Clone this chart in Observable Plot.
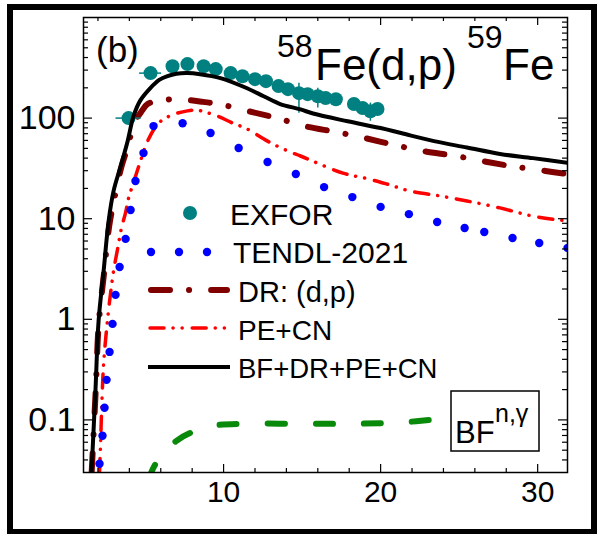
<!DOCTYPE html>
<html><head><meta charset="utf-8">
<script src="https://cdn.jsdelivr.net/npm/d3@7"></script>
<script src="https://cdn.jsdelivr.net/npm/@observablehq/plot@0.6"></script>
<style>
body{margin:0;background:#fff}
#chart{position:relative;width:597px;height:534px;overflow:hidden}
</style>
</head><body><div id="chart"></div>
<script>
// ---- data ----
const exforE  = [3.95,5.35,6.75,7.7,8.73,9.5,10.45,11.2,12.0,12.7,13.5,14.1,14.8,15.35,16.0,16.5,17.15,18.3,18.85,19.35,19.8];
const exforXS = [100,280,328,344,328,307,280,261,244,233,208,194,177,173,165,158,154,138,126,117,123];
const exforDE = [0.8,0.7,0,0,0,0,0,0,0,0,0,0,0,0,0,0,0,0,0,0,0];
const exforLo = [100,280,328,344,328,307,280,261,244,233,208,194,112,173,126,158,154,138,126,93,123];
const exforHi = [100,280,328,344,328,307,280,261,244,233,208,194,222,173,198,158,154,138,126,141,123];

const tendlE  = [2.10,2.29,2.42,2.55,2.74,2.93,3.12,3.38,3.76,4.08,4.39,4.90,5.54,7.39,9.17,10.96,12.8,14.6,16.4,18.2,20.0,21.8,23.6,25.35,26.6,28.4,30.1,31.9];
const tendlXS = [0.0366,0.0695,0.132,0.25,0.474,0.90,1.75,3.31,6.3,12.2,23.7,44.9,83.3,89,71,50.4,36.6,27.8,20.6,16.4,13.1,11.1,9.27,8.09,7.38,6.43,5.74,5.12];

const drE  = [1.6,1.86,2.05,2.38,2.72,3.05,3.5,3.95,4.27,4.8,5.16,6.0,6.8,7.77,8.7,9.7,11.6,13.4,15.2,17.2,19.0,20.9,22.7,24.8,26.8,28.7,30.5,31.9];
const drXS = [0.03,0.2,0.9,2.8,8.5,16,33,55,87,118,138,150,154,151,145,138,117,100,83,72.6,63.3,54,47,42,36.6,32.6,29.8,27.7];

const pecnE  = [2.1,2.17,2.25,2.36,2.55,2.68,2.8,2.99,3.25,3.5,3.76,3.95,4.27,4.7,5.16,5.8,6.3,6.9,7.7,8.3,8.9,9.6,10.6,11.5,12.8,14.1,14.9,17.6,19.2,20.4,21.9,23.8,25.5,27.6,29.7,31.9];
const pecnXS = [0.03,0.06,0.15,0.36,0.8,1.25,1.8,3.0,5.0,8.1,11.5,16,23,37,59,87,100,110,118,120,114,105,89,78,59,47,42,28.4,24.9,22.1,18.8,16.8,15,12.8,10.6,9.5];

const totE  = [1.59,1.85,2.04,2.36,2.68,3.0,3.44,3.89,4.27,4.7,5.35,5.9,6.43,7.0,7.7,8.5,9.8,11.5,12.55,13.6,14.9,15.7,17.9,20.0,21.3,23.4,25.5,27.6,29.7,31.9];
const totXS = [0.03,0.21,0.96,3.0,9.5,19,33,59,105,150,200,240,262,276,280,273,250,198,165,138,122,111,93,79.6,71,59,51,44,40,36];

const bfE  = [5.2,5.6,6.18,7.0,7.9,9.3,11.4,14.9,18.1,21.1,24.1,27.0,30.7];
const bfXS = [0.025,0.035,0.046,0.062,0.0745,0.0873,0.0915,0.0915,0.0915,0.094,0.1027,0.109,0.12];

const xMajor = [10,20,30];
const xMinor = [2,4,6,8,12,14,16,18,22,24,26,28];
const yMajor = [0.1,1,10,100];
const yMinor = [0.04,0.05,0.06,0.07,0.08,0.09,0.2,0.3,0.4,0.5,0.6,0.7,0.8,0.9,2,3,4,5,6,7,8,9,20,30,40,50,60,70,80,90,200,300,400,500,600,700,800,900];

const legendLabels = ["EXFOR","TENDL-2021","DR: (d,p)","PE+CN","BF+DR+PE+CN"];

// ---- colours ----
const cTeal="#008080", cBlue="#0000ff", cMaroon="#800000", cRed="#ff0000", cGreen="#0a8a0a";

const W=597,H=534,mL=83,mR=30,mT=17,mB=62;
const fw=W-mL-mR, fh=H-mT-mB;
const FONT="'Liberation Sans', Arial, Helvetica, sans-serif";

const zip=(xs,ys)=>xs.map((x,i)=>({x,y:ys[i]}));
const exfor = exforE.map((e,i)=>({x:e,y:exforXS[i],dx:exforDE[i],lo:exforLo[i],hi:exforHi[i]}));

const plot = Plot.plot({
  width:W, height:H, marginLeft:mL, marginRight:mR, marginTop:mT, marginBottom:mB,
  style:{fontFamily:FONT, background:"white", color:"black", overflow:"visible"},
  x:{domain:[1.08,31.9]},
  y:{type:"log", domain:[0.03,1000]},
  marks:[
    Plot.line(zip(bfE,bfXS),{x:"x",y:"y",stroke:cGreen,strokeWidth:6,strokeDasharray:"17,31",strokeLinecap:"round",curve:"catmull-rom",clip:true}),
    Plot.line(zip(pecnE,pecnXS),{x:"x",y:"y",stroke:cRed,strokeWidth:3.5,strokeDasharray:"14,9,0.1,9,0.1,10",strokeLinecap:"round",curve:"catmull-rom",clip:true}),
    Plot.line(zip(drE,drXS),{x:"x",y:"y",stroke:cMaroon,strokeWidth:6,strokeDasharray:"19,19,0.1,22",strokeLinecap:"round",curve:"catmull-rom",clip:true}),
    Plot.dot(zip(tendlE,tendlXS),{x:"x",y:"y",r:4.2,fill:cBlue,clip:true}),
    Plot.ruleY(exfor.filter(d=>d.dx>0),{y:"y",x1:d=>d.x-d.dx,x2:d=>d.x+d.dx,stroke:cTeal,strokeWidth:1.5}),
    Plot.ruleX(exfor.filter(d=>d.hi>d.lo),{x:"x",y1:"lo",y2:"hi",stroke:cTeal,strokeWidth:1.5}),
    Plot.dot(exfor,{x:"x",y:"y",r:7,fill:cTeal}),
    Plot.line(zip(totE,totXS),{x:"x",y:"y",stroke:"black",strokeWidth:4,curve:"catmull-rom",clip:true}),
    Plot.frame({stroke:"black",strokeWidth:1.5}),
    Plot.tickX(xMinor,{x:d=>d,insetTop:fh-4,stroke:"black",strokeWidth:1.2}),
    Plot.tickX(xMinor,{x:d=>d,insetBottom:fh-4,stroke:"black",strokeWidth:1.2}),
    Plot.tickX(xMajor,{x:d=>d,insetTop:fh-8,stroke:"black",strokeWidth:1.2}),
    Plot.tickX(xMajor,{x:d=>d,insetBottom:fh-8,stroke:"black",strokeWidth:1.2}),
    Plot.tickY(yMinor,{y:d=>d,insetRight:fw-5,stroke:"black",strokeWidth:1.2}),
    Plot.tickY(yMinor,{y:d=>d,insetLeft:fw-5,stroke:"black",strokeWidth:1.2}),
    Plot.tickY(yMajor,{y:d=>d,insetRight:fw-9,stroke:"black",strokeWidth:1.2}),
    Plot.tickY(yMajor,{y:d=>d,insetLeft:fw-9,stroke:"black",strokeWidth:1.2}),
    Plot.axisX(xMajor,{tickSize:0,tickPadding:8,fontSize:30,label:null,tickFormat:d=>String(d)}),
    Plot.axisY(yMajor,{tickSize:0,tickPadding:8,fontSize:34,label:null,tickFormat:d=>String(d)})
  ]
});
document.getElementById("chart").appendChild(plot);

const svg = d3.select(plot);

// outer thick frame
svg.append("rect").attr("x",10).attr("y",7).attr("width",584).attr("height",525)
  .attr("fill","none").attr("stroke","black").attr("stroke-width",6);

const NS = svg.append("g").attr("font-family",FONT).attr("fill","black").attr("text-anchor","start");

// panel label
NS.append("text").attr("x",96).attr("y",62).attr("font-size",35).text("(b)");

// title with superscripts
NS.append("text").attr("x",277).attr("y",57).attr("font-size",32).text("58");
NS.append("text").attr("x",315).attr("y",80).attr("font-size",44).text("Fe(d,p)");
NS.append("text").attr("x",467).attr("y",48).attr("font-size",32).text("59");
NS.append("text").attr("x",503).attr("y",80).attr("font-size",44).text("Fe");

// legend
const lg = svg.append("g").attr("font-family",FONT).attr("font-size",30).attr("fill","black").attr("text-anchor","start");
lg.append("circle").attr("cx",190).attr("cy",213).attr("r",7).attr("fill",cTeal);
lg.append("text").attr("x",230).attr("y",225).text(legendLabels[0]);
[151,179,207].forEach(cx=>lg.append("circle").attr("cx",cx).attr("cy",252).attr("r",4.2).attr("fill",cBlue));
lg.append("text").attr("x",233).attr("y",263).text(legendLabels[1]);
lg.append("line").attr("x1",151).attr("x2",227).attr("y1",290).attr("y2",290)
  .attr("stroke",cMaroon).attr("stroke-width",6).attr("stroke-linecap","round").attr("stroke-dasharray","19,19,0.1,22");
lg.append("text").attr("x",238).attr("y",302).attr("font-size",29).text(legendLabels[2]);
lg.append("line").attr("x1",150).attr("x2",229).attr("y1",328).attr("y2",328)
  .attr("stroke",cRed).attr("stroke-width",3.5).attr("stroke-linecap","round").attr("stroke-dasharray","14,9,0.1,9,0.1,10");
lg.append("text").attr("x",238).attr("y",340).attr("font-size",28).text(legendLabels[3]);
lg.append("line").attr("x1",148).attr("x2",230).attr("y1",367).attr("y2",367)
  .attr("stroke","black").attr("stroke-width",4);
lg.append("text").attr("x",238).attr("y",378).attr("font-size",27.5).text(legendLabels[4]);

// BF(n,gamma) box
const bx = svg.append("g").attr("font-family",FONT).attr("fill","black").attr("text-anchor","start");
bx.append("rect").attr("x",451).attr("y",391).attr("width",88).attr("height",60)
  .attr("fill","white").attr("stroke","black").attr("stroke-width",1.5);
bx.append("text").attr("x",455).attr("y",443).attr("font-size",31).text("BF");
bx.append("text").attr("x",495).attr("y",422).attr("font-size",25).text("n,\u03b3");
</script>
</body></html>
